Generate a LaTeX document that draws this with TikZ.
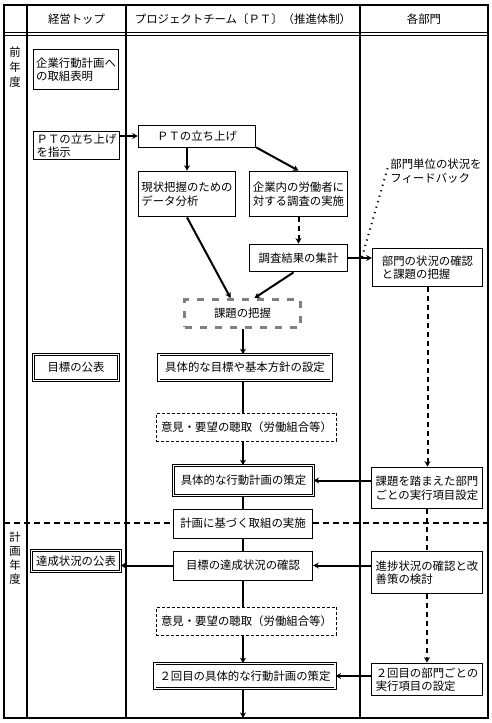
\documentclass[tikz,border=0pt]{standalone}
\usepackage{fontspec}
\setmainfont{Noto Sans CJK JP}
\usepackage{tikz}
\usetikzlibrary{arrows.meta}
\usetikzlibrary{positioning}
\newcommand{\jfont}{\fontsize{11.4bp}{13.5bp}\selectfont}

\begin{document}
\begin{tikzpicture}[x=1bp,y=-1bp,
	every node/.style={font=\jfont, inner sep=2pt},
	box/.style={draw, line width=0.9bp, align=left, fill=white},
	dbox/.style={box, double, double distance=1.4bp, line width=0.8bp},
	ibox/.style={box, dash pattern=on 3bp off 2bp},
	hbox/.style={box, draw=black!50, line width=3bp, dash pattern=on 7bp off 8bp},
	arr/.style={line width=2bp, -{Stealth[length=5.5bp,width=6bp]}},
	ln/.style={line width=2bp},
	darr/.style={arr, dash pattern=on 5bp off 4bp},
	dln/.style={ln, dash pattern=on 5bp off 4bp},
	sep/.style={line width=2bp, dash pattern=on 6bp off 4bp}]
				\useasboundingbox (0,0) rectangle (492,723);
				\draw[line width=2bp] (4,5) rectangle (488,718);
				\draw[line width=1bp] (4,33) -- (488,33) (4,35.8) -- (488,35.8);
				\draw[line width=2bp] (27,5) -- (27,718) (126,5) -- (126,718) (360,5) -- (360,718);
				\node (htop) at (76.5,19) {経営トップ};
				\node (hpt) at (243,19) {プロジェクトチーム〔ＰＴ〕（推進体制）};
				\node (hbu) at (424,19) {各部門};
				\node[align=center, font=\fontsize{11.4bp}{15bp}\selectfont] (zen) at (15,67) {前\\年\\度};
				\node[align=center, font=\fontsize{11.4bp}{14bp}\selectfont] (kei) at (15,558) {計\\画\\年\\度};
				\node[box, minimum width=86, minimum height=41] (hyomei) at (76,69.5) {企業行動計画へ\\の取組表明};
				\node[box, minimum width=87, minimum height=29] (shiji) at (76.5,145.5) {ＰＴの立ち上げ\\を指示};
				\node[box, minimum width=118, minimum height=22] (pt) at (197,136) {ＰＴの立ち上げ};
				\node[box, minimum width=98, minimum height=46] (bunseki) at (187,194) {現状把握のための\\データ分析};
				\node[box, minimum width=99, minimum height=46] (chosa) at (298.5,194) {企業内の労働者に\\対する調査の実施};
				\node[box, minimum width=99, minimum height=28] (shukei) at (298.5,258) {調査結果の集計};
				\node[box, minimum width=111, minimum height=39] (bumon) at (427.5,267.5) {部門の状況の確認\\と課題の把握};
				\node[align=left] (fb) at (436,171) {部門単位の状況を\\フィードバック};
				\node[hbox, minimum width=116, minimum height=28] (kadai) at (242.5,313.5) {課題の把握};
				\node[dbox, minimum width=85, minimum height=26] (kohyo) at (76,367.5) {目標の公表};
				\node[dbox, minimum width=173, minimum height=26] (hoshin) at (245,367.5) {具体的な目標や基本方針の設定};
				\node[ibox, minimum width=181, minimum height=28] (iken) at (246.5,427) {意見・要望の聴取（労働組合等）};
				\node[dbox, minimum width=140, minimum height=30] (keikaku) at (243.5,480.5) {具体的な行動計画の策定};
				\node[box, minimum width=112, minimum height=42] (jikko) at (427,488) {課題を踏まえた部門\\ごとの実行項目設定};
				\node[box, minimum width=140, minimum height=29] (torikumi) at (243,523.5) {計画に基づく取組の実施};
				\node[box, minimum width=140, minimum height=29] (tassei) at (243,565.5) {目標の達成状況の確認};
				\node[dbox, minimum width=89, minimum height=21] (kohyo2) at (76,561) {達成状況の公表};
				\node[box, minimum width=112, minimum height=43] (shincho) at (427,572.5) {進捗状況の確認と改\\善策の検討};
				\node[ibox, minimum width=181, minimum height=28] (iken2) at (246.5,621) {意見・要望の聴取（労働組合等）};
				\node[dbox, minimum width=181, minimum height=25] (keikaku2) at (245,676) {２回目の具体的な行動計画の策定};
				\node[box, minimum width=112, minimum height=33] (jikko2) at (427,679.5) {２回目の部門ごとの\\実行項目の設定};
				\coordinate (fbst) at (362,257);
				\coordinate (kl) at (4,523);
				\coordinate (kr) at (488,523);
				\coordinate (owari) at (243,718);
				\draw (shiji.east |- pt.west) edge [arr] (pt.west);
				\draw (pt.south -| bunseki.north) edge [arr] (bunseki.north);
				\draw (pt.south east) edge [arr] (chosa.north);
				\draw (chosa) edge [darr] (shukei);
				\draw (bunseki.south) edge [arr] ([xshift=-12pt]kadai.north);
				\draw ([xshift=-5pt]shukei.south) edge [arr] ([xshift=12pt]kadai.north);
				\draw (shukei) edge [arr] (shukei -| bumon.west);
				\draw (fbst) edge [line width=2bp, dash pattern=on 1.2bp off 4.5bp] ([yshift=5pt]fb.west);
				\draw (kadai.south -| tassei) edge [arr] (hoshin.north -| tassei);
				\draw (hoshin.south -| tassei) edge [ln] (iken.north -| tassei);
				\draw (iken.south -| tassei) edge [arr] (keikaku.north -| tassei);
				\draw (bumon.south) edge [darr] (bumon.south |- jikko.north);
				\draw (jikko.west |- keikaku) edge [arr] (keikaku.east);
				\draw (keikaku.south -| tassei) edge [ln] (torikumi.north -| tassei);
				\draw (jikko.south) edge [dln] (jikko.south |- shincho.north);
				\draw (kl) edge [sep] (kl -| torikumi.west);
				\draw (torikumi.east |- kr) edge [sep] (kr);
				\draw (torikumi) edge [ln] (tassei);
				\draw (tassei) edge [arr] (tassei -| kohyo2.east);
				\draw (shincho.west |- tassei) edge [arr] (tassei.east);
				\draw (tassei.south) edge [ln] (tassei.south |- iken2.north);
				\draw (iken2.south -| tassei) edge [arr] (keikaku2.north -| tassei);
				\draw (shincho.south) edge [darr] (shincho.south |- jikko2.north);
				\draw (jikko2.west |- keikaku2) edge [arr] (keikaku2.east);
				\draw (keikaku2.south -| owari) edge [arr] (owari);
			\end{tikzpicture}
\end{document}
